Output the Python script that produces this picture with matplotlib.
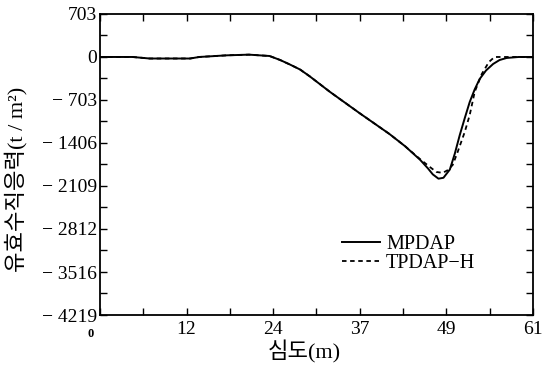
import matplotlib.pyplot as plt
import numpy as np

# depth (m) and effective vertical stress (t/m^2)
depth_mp = [0, 4.6, 7, 12.7, 14, 17.9, 21, 23.9, 25.4, 26.8, 28.2, 29.6, 32.4,
            36.6, 40.8, 43.0, 45.1, 46.2, 46.9, 47.7, 48.4, 49.3, 50.0, 50.7,
            51.4, 52.1, 52.8, 53.5, 54.4, 55.4, 56.3, 57.3, 59, 61]
stress_mp = [0, 0, -25, -25, 0, 27, 38, 16, -50, -125, -205, -320, -570,
             -920, -1260, -1460, -1680, -1820, -1920, -1990, -1975, -1840,
             -1580, -1275, -1000, -736, -530, -360, -220, -114, -50, -16, 0, 0]

depth_tp = [0, 4.6, 7, 12.7, 14, 17.9, 21, 23.9, 25.4, 26.8, 28.2, 29.6, 32.4,
            36.6, 40.8, 43.0, 45.1, 46.5, 47.4, 48.3, 49.0, 49.7, 50.4, 51.4,
            52.1, 52.8, 53.8, 54.8, 55.6, 57, 59, 61]
stress_tp = [0, 0, -25, -25, 0, 27, 38, 16, -50, -125, -205, -320, -570,
             -920, -1260, -1460, -1670, -1800, -1880, -1895, -1850, -1766,
             -1553, -1226, -948, -572, -278, -82, 0, 0, 0, 0]

xtick_pos = [0, 12.2, 24.4, 36.6, 48.8, 61]
xtick_lab = ["", "12", "24", "37", "49", "61"]
ytick_pos = [703, 0, -703, -1406, -2109, -2812, -3516, -4219]
ytick_lab = ["703", "0", "\u2212 703", "\u2212 1406", "\u2212 2109",
             "\u2212 2812", "\u2212 3516", "\u2212 4219"]

serif = ["Liberation Serif", "Noto Sans CJK KR"]

fig = plt.figure(figsize=(5.46, 3.68), dpi=100)
ax = fig.add_axes([0.183, 0.144, 0.793, 0.818])

ax.plot(depth_mp, stress_mp, color="black", lw=1.4, label="MPDAP")
ax.plot(depth_tp, stress_tp, color="black", lw=1.3, ls=(0, (2.5, 2)),
        label="TPDAP\u2212H")

ax.set_xlim(0, 61)
ax.set_ylim(-4219, 703)

ax.set_xticks(xtick_pos)
ax.set_xticklabels(xtick_lab, family=serif, fontsize=14)
ax.set_xticks(np.arange(6.1, 61, 12.2), minor=True)
ax.set_yticks(ytick_pos)
ax.set_yticklabels(ytick_lab, family=serif, fontsize=14)
ax.set_yticks(np.arange(351.5, -4219, -703), minor=True)

ax.tick_params(which="both", direction="in", top=True, right=True,
               width=1.0, length=5)
ax.tick_params(axis="x", which="major", pad=4)
ax.tick_params(axis="y", which="major", pad=2)

# the small "0" under the corner
ax.text(-0.022, -0.062, "0", transform=ax.transAxes, family=serif,
        fontsize=9, fontweight="bold", ha="center", va="center")

for s in ax.spines.values():
    s.set_linewidth(1.3)

ax.set_xlabel("심도(m)", family=serif, fontsize=16)
ax.xaxis.set_label_coords(0.473, -0.085)
ax.set_ylabel("유효수직응력(t / m\u00b2)", family=serif, fontsize=16)
ax.yaxis.set_label_coords(-0.168, 0.45)

leg = ax.legend(loc="lower left", bbox_to_anchor=(0.54, 0.112), frameon=False,
                prop={"family": serif, "size": 14.5}, handlelength=1.9,
                handletextpad=0.3, labelspacing=0.0, borderaxespad=0)

fig.savefig("out.png", dpi=100)
